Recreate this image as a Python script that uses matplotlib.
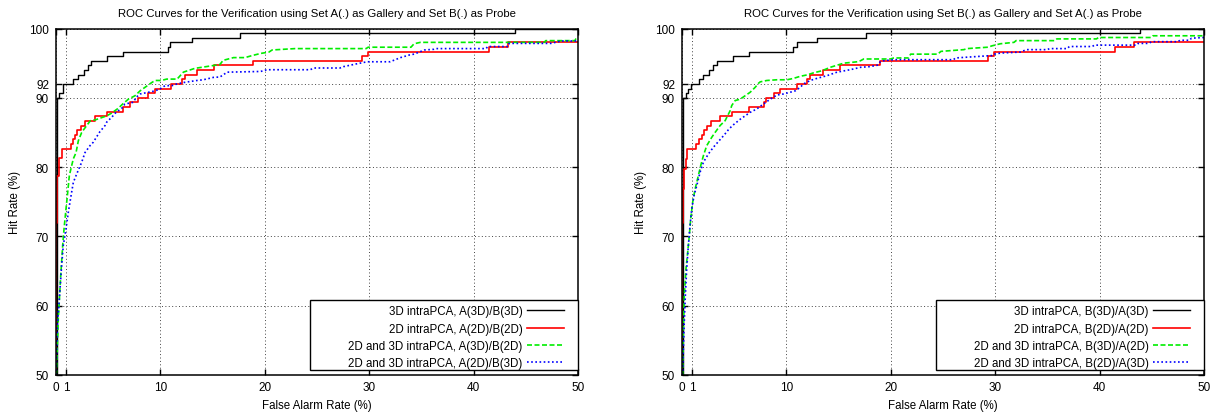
import matplotlib.pyplot as plt
from matplotlib.patches import Rectangle

plt.rcParams['font.family'] = ['Liberation Sans', 'DejaVu Sans']

x_ticks = [0, 1, 10, 20, 30, 40, 50]
y_ticks = [50, 60, 70, 80, 90, 92, 100]

title_a = 'ROC Curves for the Verification using Set A(.) as Gallery and Set B(.) as Probe'
title_b = 'ROC Curves for the Verification using Set B(.) as Gallery and Set A(.) as Probe'

labels_a = ['3D intraPCA, A(3D)/B(3D)',
            '2D intraPCA, A(2D)/B(2D)',
            '2D and 3D intraPCA, A(3D)/B(2D)',
            '2D and 3D intraPCA, A(2D)/B(3D)']
labels_b = ['3D intraPCA, B(3D)/A(3D)',
            '2D intraPCA, B(2D)/A(2D)',
            '2D and 3D intraPCA, B(3D)/A(2D)',
            '2D and 3D intraPCA, B(2D)/A(3D)']

# Set A as gallery, set B as probe (false alarm rate %, hit rate %)
black_a_x = [0, 0.13, 0.32, 0.70, 1.66, 2.08, 2.72, 3.10, 3.32, 4.86, 6.39, 10.77, 10.93, 13.0, 17.64, 44.0, 50]
black_a_y = [50, 90.0, 90.67, 92.0, 92.67, 93.33, 94.0, 94.67, 95.33, 96.0, 96.67, 97.33, 98.0, 98.67, 99.33, 100, 100]

red_a_x = [0, 0, 0.13, 0.26, 0.54, 1.40, 1.66, 1.85, 2.0, 2.37, 2.78, 3.74, 4.86, 6.39, 7.1,
           7.9, 8.85, 9.5, 11.0, 12.05, 12.37, 13.5, 15.1, 18.86, 29.3, 29.85, 41.5, 43.3, 50]
red_a_y = [50, 72.0, 78.67, 81.33, 82.67, 83.33, 84.0, 84.67, 85.33, 86.0, 86.67, 87.33, 88.0, 88.67, 89.33,
           90.0, 90.67, 91.33, 92.0, 92.67, 93.33, 94.0, 94.67, 95.33, 96.0, 96.67, 97.33, 98.0, 98.0]

green_a_x = [0, 0.04, 0.22, 0.45, 0.64, 0.77, 0.96, 1.09, 1.28, 1.5, 1.66, 1.92, 2.14, 2.46, 2.94, 3.3,
             3.74, 4.86, 5.34, 5.97, 6.39, 6.93, 7.57, 8.05, 8.7, 9.17, 9.5, 10.1, 10.6, 11.6, 12.2, 13.3,
             15.7, 16.0, 17.0, 18.1, 18.8, 19.6, 20.4, 20.7, 22.9, 29.7, 29.9, 34.0, 34.3, 34.9, 46.8,
             46.9, 49.7, 49.8, 50]
green_a_y = [50, 50.4, 58.1, 64.3, 68.7, 71.1, 74.0, 75.9, 78.8, 80.2, 81.2, 82.1, 83.8, 85.0, 86.0, 86.7,
             86.8, 87.4, 87.8, 88.5, 89.1, 89.8, 90.3, 91.0, 91.7, 92.2, 92.5, 92.5, 92.7, 92.7, 93.7, 94.25,
             94.8, 95.4, 95.8, 95.8, 96.1, 96.4, 96.6, 96.9, 97.1, 97.1, 97.3, 97.3, 97.8, 98.0, 98.0,
             98.25, 98.25, 98.5, 98.5]

blue_a_x = [0, 0.13, 0.32, 0.54, 0.7, 0.96, 1.18, 1.5, 1.66, 1.98, 2.46, 2.78, 3.26, 3.58, 3.74, 4.2,
            4.7, 4.86, 5.34, 5.75, 6.39, 6.6, 7.4, 7.7, 8.05, 9.5, 9.97, 10.45, 11.1, 11.6, 12.2, 13.5,
            14.1, 15.1, 15.7, 16.4, 19.6, 20.2, 24.35, 24.7, 27.2, 27.55, 28.8, 29.8, 32.0, 33.0, 33.9,
            34.3, 34.8, 35.3, 36.2, 36.4, 41.2, 41.35, 43.3, 43.4, 47.4, 48.1, 48.4, 50]
blue_a_y = [50, 57.1, 61.0, 65.8, 68.7, 71.1, 73.5, 76.4, 77.8, 79.0, 80.7, 82.1, 83.1, 83.6, 84.0, 85.1,
            86.0, 86.5, 87.2, 87.9, 88.6, 89.1, 89.35, 90.1, 90.55, 91.0, 91.3, 91.75, 91.75, 92.0, 92.2, 92.5,
            92.6, 92.95, 93.0, 93.7, 93.8, 94.05, 94.05, 94.3, 94.3, 94.5, 94.9, 95.2, 95.2, 95.8, 96.2,
            96.3, 96.6, 96.9, 97.0, 97.1, 97.1, 97.4, 97.4, 97.85, 97.85, 98.1, 98.2, 98.2]

# Set B as gallery, set A as probe
black_b_x = [0, 0.13, 0.35, 0.61, 0.83, 1.66, 1.98, 2.62, 3.0, 3.33, 4.92, 6.46, 10.68, 11.0, 12.92, 17.66, 43.9, 50]
black_b_y = [50, 90.0, 90.67, 91.33, 92.0, 92.67, 93.33, 94.0, 94.67, 95.33, 96.0, 96.67, 97.33, 98.0, 98.67, 99.33, 100, 100]

red_b_x = [0, 0, 0.13, 0.22, 0.35, 0.51, 1.34, 1.66, 1.89, 2.11, 2.37, 2.75, 3.65, 4.77, 6.46,
           7.87, 8.0, 8.77, 9.4, 11.0, 11.97, 12.28, 13.5, 15.16, 18.94, 29.33, 29.9, 41.5, 43.3, 50]
red_b_y = [50, 72.0, 76.8, 79.7, 81.2, 82.67, 83.33, 84.0, 84.67, 85.33, 86.0, 86.67, 87.33, 88.0, 88.67,
           89.33, 90.0, 90.67, 91.33, 92.0, 92.67, 93.33, 94.0, 94.67, 95.33, 96.0, 96.67, 97.33, 98.0, 98.0]

green_b_x = [0, 0.06, 0.13, 0.22, 0.38, 0.51, 0.7, 0.83, 1.02, 1.25, 1.57, 1.79, 2.05, 2.37, 2.85, 3.17,
             3.65, 4.13, 4.6, 4.77, 5.09, 5.57, 6.05, 6.53, 7.0, 7.33, 7.49, 8.13, 9.09, 10.05, 10.68, 11.32,
             11.97, 12.6, 13.4, 14.2, 14.85, 15.5, 16.8, 17.1, 17.4, 19.96, 20.3, 21.7, 21.9, 24.5, 24.8,
             27.0, 27.3, 29.3, 29.7, 30.5, 31.8, 32.0, 35.7, 35.9, 39.7, 39.9, 44.9, 45.1, 50]
green_b_y = [50, 50.0, 56.6, 61.4, 65.3, 67.2, 70.1, 72.5, 74.9, 76.8, 78.8, 80.2, 81.65, 83.1, 84.3, 85.0,
             86.0, 86.7, 88.1, 88.9, 89.6, 89.8, 90.3, 90.8, 91.5, 92.1, 92.3, 92.5, 92.6, 92.6, 92.8, 93.1,
             93.3, 93.6, 93.9, 94.4, 94.7, 95.0, 95.2, 95.35, 95.6, 95.6, 95.75, 95.75, 96.3, 96.3, 96.7,
             96.95, 97.1, 97.3, 97.5, 97.8, 98.0, 98.25, 98.25, 98.5, 98.5, 98.7, 98.7, 98.95, 98.95]

blue_b_x = [0, 0.06, 0.19, 0.32, 0.45, 0.61, 0.77, 0.93, 1.15, 1.41, 1.73, 2.05, 2.53, 3.0, 3.55, 4.05,
            4.5, 4.92, 5.57, 6.05, 6.53, 7.17, 7.8, 8.45, 9.09, 9.72, 10.36, 10.84, 11.32, 11.64, 12.28,
            12.92, 13.9, 14.85, 16.1, 17.1, 18.0, 18.7, 19.0, 19.3, 20.3, 26.0, 26.2, 29.7, 29.9, 30.5,
            32.4, 33.0, 35.0, 35.2, 36.9, 37.1, 39.3, 39.5, 43.5, 43.7, 44.7, 45.0, 47.5, 47.7, 48.6, 48.8, 50]
blue_b_y = [50, 50.5, 56.6, 61.45, 65.3, 68.7, 71.55, 73.95, 75.9, 77.3, 79.25, 80.7, 81.9, 82.85, 83.8, 84.65,
            85.5, 86.1, 86.9, 87.4, 87.9, 88.4, 89.1, 89.8, 90.4, 90.55, 90.8, 91.0, 91.5, 92.0, 92.5,
            92.8, 93.2, 93.7, 94.05, 94.4, 94.5, 94.7, 95.2, 95.35, 95.5, 95.5, 95.75, 96.1, 96.3, 96.45,
            96.6, 96.95, 96.95, 97.1, 97.1, 97.4, 97.4, 97.6, 97.6, 97.85, 97.85, 98.1, 98.1, 98.3, 98.3, 98.6, 98.7]


def roc_panel(ax, curves, labels, title):
    styles = [
        dict(color='black', lw=1.0, drawstyle='steps-post'),
        dict(color='red', lw=1.2, drawstyle='steps-post'),
        dict(color='#00ee00', lw=1.2, dashes=(3, 1.5)),
        dict(color='#0000ff', lw=1.2, dashes=(1, 1.5)),
    ]
    for (x, y), label, style in zip(curves, labels, styles):
        ax.plot(x, y, label=label, **style)

    ax.set_xlim(0, 50)
    ax.set_ylim(50, 100)
    ax.set_xticks(x_ticks)
    ax.set_yticks(y_ticks)
    ax.grid(True, color='#444444', lw=0.7, dashes=(1, 2.5))
    ax.tick_params(direction='in', top=True, right=True, length=4, width=1, labelsize=8.5)
    ax.tick_params(axis='y', pad=5)
    ax.tick_params(axis='x', pad=4)
    for spine in ax.spines.values():
        spine.set_linewidth(1.1)

    ax.set_title(title, fontsize=8.2, pad=9)
    ax.set_xlabel('False Alarm Rate (%)', fontsize=8.3, labelpad=5)
    ax.set_ylabel('Hit Rate (%)', fontsize=8.3, labelpad=6)

    # gnuplot style key: white box in the lower right corner, samples after the text
    ax.add_patch(Rectangle((0.486, 0.015), 0.514, 0.201, transform=ax.transAxes,
                           facecolor='white', edgecolor='black', lw=1.0, zorder=4, clip_on=False))
    ax.legend(loc='lower right', bbox_to_anchor=(0.973, 0.016), frameon=False, markerfirst=False,
              borderaxespad=0, borderpad=0, handlelength=3.2, handletextpad=0.4,
              labelspacing=0.47, fontsize=8.3).set_zorder(5)


fig = plt.figure(figsize=(12.14, 4.14), dpi=100)
ax_a = fig.add_axes([56 / 1214, 38 / 414, 522 / 1214, 346.5 / 414])
ax_b = fig.add_axes([682 / 1214, 38 / 414, 522 / 1214, 346.5 / 414])

roc_panel(ax_a, [(black_a_x, black_a_y), (red_a_x, red_a_y), (green_a_x, green_a_y), (blue_a_x, blue_a_y)],
          labels_a, title_a)
roc_panel(ax_b, [(black_b_x, black_b_y), (red_b_x, red_b_y), (green_b_x, green_b_y), (blue_b_x, blue_b_y)],
          labels_b, title_b)

fig.savefig('out.png', dpi=100)
